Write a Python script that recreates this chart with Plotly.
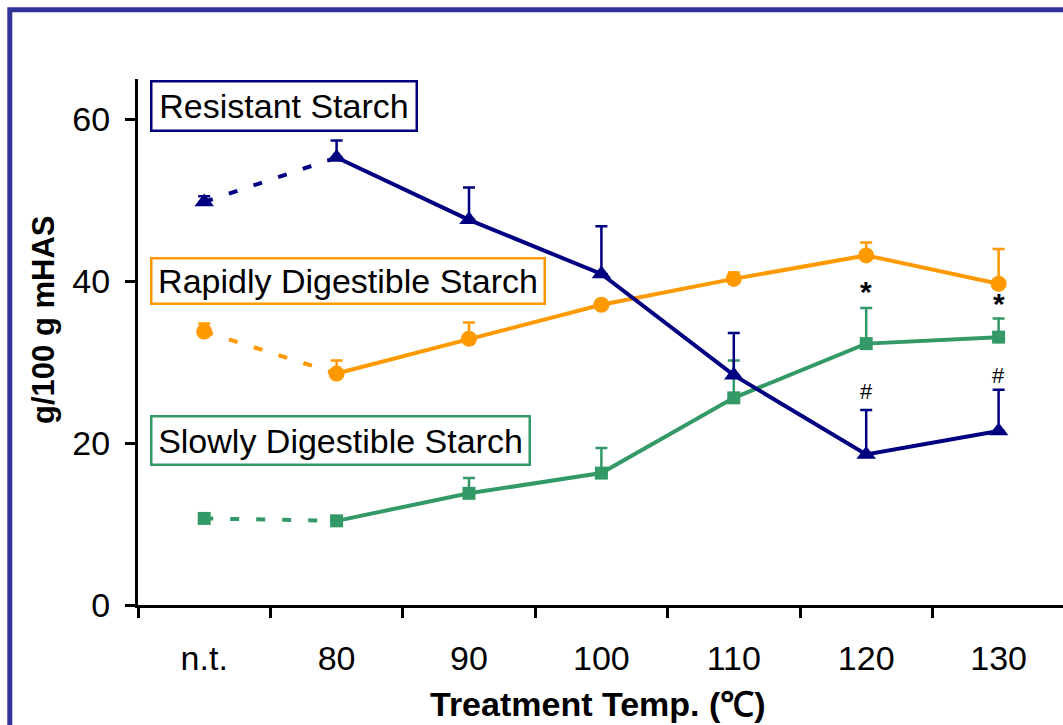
import plotly.graph_objects as go

categories = ["n.t.", "80", "90", "100", "110", "120", "130"]

resistant = [49.8, 55.3, 47.6, 40.9, 28.4, 18.6, 21.5]
resistant_err = [0.7, 2.1, 4.0, 5.9, 5.2, 5.5, 5.1]

rapidly = [33.8, 28.6, 32.9, 37.1, 40.3, 43.2, 39.7]
rapidly_err = [1.0, 1.6, 2.0, 0.0, 0.8, 1.6, 4.3]

slowly = [10.7, 10.4, 13.8, 16.3, 25.6, 32.3, 33.1]
slowly_err = [0.0, 0.0, 1.9, 3.1, 4.6, 4.4, 2.3]

sig_star = ["*", "*"]
sig_hash = ["#", "#"]
sig_cats = [5, 6]
star_y = [38.8, 37.2]
hash_y = [26.4, 28.4]

series_names = ["Resistant Starch", "Rapidly Digestible Starch", "Slowly Digestible Starch"]

NAVY = "#000080"
ORANGE = "#FF9900"
GREEN = "#339966"
FRAME = "#333399"
FONT = "Liberation Sans, Arial, sans-serif"

W, H = 1063, 725
ML, MR, MT, MB = 138, 0, 79, 120
PW = W - ML - MR
PH = H - MT - MB


def px_x(p):
    return (p - ML) / PW


def px_y(p):
    return (H - MB - p) / PH


xi = list(range(len(categories)))
fig = go.Figure()

series = [
    (slowly, slowly_err, GREEN, "square", 13),
    (rapidly, rapidly_err, ORANGE, "circle", 16),
    (resistant, resistant_err, NAVY, "triangle-up", 17),
]

for vals, errs, col, sym, msz in series:
    fig.add_trace(go.Scatter(
        x=xi[:2], y=vals[:2], mode="lines",
        line=dict(color=col, width=4, dash="9px,17px"),
        showlegend=False, hoverinfo="skip", cliponaxis=False))
    fig.add_trace(go.Scatter(
        x=xi[1:], y=vals[1:], mode="lines",
        line=dict(color=col, width=4),
        showlegend=False, hoverinfo="skip", cliponaxis=False))
    fig.add_trace(go.Scatter(
        x=xi, y=vals, mode="markers",
        marker=dict(color=col, symbol=sym, size=msz, line=dict(width=0)),
        error_y=dict(type="data", symmetric=False, array=errs,
                     arrayminus=[0] * len(errs), color=col,
                     thickness=2.5, width=6),
        showlegend=False, cliponaxis=False))

annotations = []
# series label boxes
boxes = [
    (series_names[0], NAVY, 80, 263, 47),
    (series_names[1], ORANGE, 257, 391, 43),
    (series_names[2], GREEN, 415, 376, 46),
]
for txt, col, ytop, bw, bh in boxes:
    annotations.append(dict(
        text=txt, xref="paper", yref="paper",
        x=px_x(150), y=px_y(ytop), xanchor="left", yanchor="top",
        showarrow=False, font=dict(family=FONT, size=34, color="black"),
        bordercolor=col, borderwidth=2.5, borderpad=0,
        width=bw, height=bh, bgcolor="white", align="center"))

for c, y, t in zip(sig_cats, star_y, sig_star):
    annotations.append(dict(text="<b>" + t + "</b>", x=c, y=y, xref="x", yref="y",
                            showarrow=False, font=dict(family=FONT, size=30, color="black")))
for c, y, t in zip(sig_cats, hash_y, sig_hash):
    annotations.append(dict(text=t, x=c, y=y, xref="x", yref="y",
                            showarrow=False, font=dict(family=FONT, size=22, color="black")))

# axis titles
annotations.append(dict(text="<b>Treatment Temp. (℃)</b>", xref="paper", yref="paper",
                        x=px_x(598), y=px_y(704), xanchor="center", yanchor="middle",
                        showarrow=False, font=dict(family=FONT, size=34, color="black")))
annotations.append(dict(text="<b>g/100 g mHAS</b>", xref="paper", yref="paper",
                        x=px_x(43), y=px_y(320), xanchor="center", yanchor="middle",
                        textangle=-90, showarrow=False,
                        font=dict(family=FONT, size=31, color="black")))

shapes = [dict(type="rect", xref="paper", yref="paper",
               x0=px_x(9.8), y0=px_y(9.8), x1=px_x(W + 40), y1=px_y(H + 40),
               line=dict(color=FRAME, width=5), fillcolor="rgba(0,0,0,0)", layer="below")]

fig.update_layout(
    width=W, height=H,
    margin=dict(l=ML, r=MR, t=MT, b=MB, pad=0),
    paper_bgcolor="white", plot_bgcolor="white",
    font=dict(family=FONT, size=34, color="black"),
    annotations=annotations, shapes=shapes,
    showlegend=False,
)
fig.update_xaxes(
    type="linear", range=[-0.5, -0.5 + PW / 132.4],
    tickmode="array", tickvals=xi, ticktext=categories,
    ticks="", showline=True, linecolor="black", linewidth=3,
    showgrid=False, zeroline=False,
    tickfont=dict(family=FONT, size=34, color="black"),
    ticklabelstandoff=21,
)
# boundary ticks via minor ticks
fig.update_xaxes(minor=dict(tickmode="array", tickvals=[i + 0.5 for i in range(-1, len(categories))],
                            ticks="outside", ticklen=10, tickwidth=3, tickcolor="black",
                            showgrid=False))
fig.update_yaxes(
    range=[0, 65], tickvals=[0, 20, 40, 60],
    ticks="outside", ticklen=10, tickwidth=3, tickcolor="black",
    showline=True, linecolor="black", linewidth=3,
    showgrid=False, zeroline=False,
    tickfont=dict(family=FONT, size=34, color="black"),
    ticklabelstandoff=8,
)

fig.write_html("out.html")
